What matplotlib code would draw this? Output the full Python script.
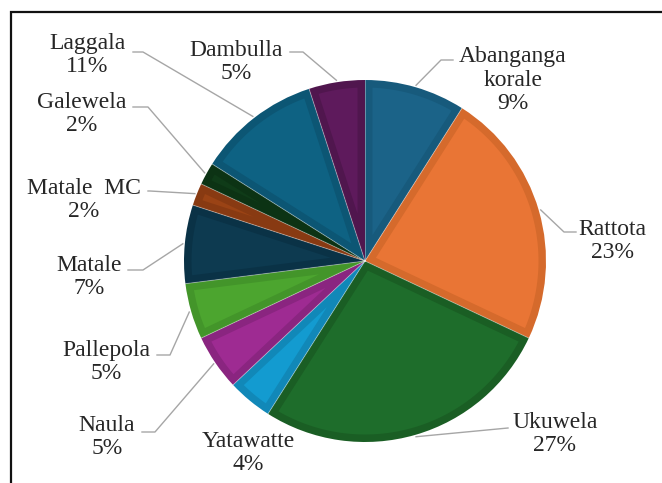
import matplotlib
matplotlib.use('Agg')
import numpy as np
from matplotlib import pyplot as plt
from matplotlib.patches import Rectangle, Polygon

# data, clockwise from 12 o'clock
names = ['Abanganga\nkorale', 'Rattota', 'Ukuwela', 'Yatawatte', 'Naula', 'Pallepola',
         'Matale', 'Matale  MC', 'Galewela', 'Laggala', 'Dambulla']
shares = [9, 23, 27, 4, 5, 5, 7, 2, 2, 11, 5]

fill_colors = ['#1b6388', '#e97535', '#1e6d2b', '#139bd0', '#9e2b92', '#4ca52f',
               '#0d3a50', '#9a4315', '#0f3b18', '#0e6283', '#5e1a5c']
edge_colors = ['#175a7c', '#d56a2c', '#1a5e24', '#1188b8', '#8a2580', '#43952a',
               '#0a3246', '#883a12', '#0c3314', '#0c5674', '#50164e']

W, H = 662, 483
center = (365, H - 261)
radius = 181
inset = 7.5

# label layout in pixels (x, y from top): text centre, stub start, elbow (None = no leader)
label_pos = [(513, 80), (612, 241), (555, 434), (248, 453), (107, 437), (106, 362),
             (89, 277), (84, 200), (82, 114), (87, 55), (236, 62)]
stubs = [(453, 60), (576, 232), (508, 428), None, (142, 432), (157, 355),
         (128, 270), (148, 191), (133, 107), (133, 52), (290, 52)]
elbows = [(441, 60), (564, 232), (508, 428), None, (155, 432), (170, 355),
          (143, 270), (150, 191), (148, 107), (143, 52), (303, 52)]

plt.rcParams['font.family'] = ['Liberation Serif', 'DejaVu Serif']

fig = plt.figure(figsize=(W / 100, H / 100), dpi=100)
ax = fig.add_axes([0, 0, 1, 1])

# base pie in the darker border colours
wedges, _ = ax.pie(shares, colors=edge_colors, startangle=90, counterclock=False,
                   center=center, radius=radius, wedgeprops=dict(linewidth=0))

# inner (lighter) part of each slice, inset from its sides and arc
cx, cy = center
for w, fc in zip(wedges, fill_colors):
    a1, a2 = sorted((w.theta1, w.theta2))
    half = np.deg2rad((a2 - a1) / 2)
    mid = np.deg2rad((a1 + a2) / 2)
    r_in = radius - inset
    apex = inset / np.sin(half) if half < np.pi / 2 else 0
    if apex >= r_in:
        continue
    off = np.rad2deg(np.arcsin(inset / r_in))
    phis = np.deg2rad(np.linspace(a1 + off, a2 - off, 60))
    pts = [(cx + apex * np.cos(mid), cy + apex * np.sin(mid))]
    pts += [(cx + r_in * np.cos(p), cy + r_in * np.sin(p)) for p in phis]
    ax.add_patch(Polygon(pts, closed=True, facecolor=fc, edgecolor='none'))

# thin light separators between slices
for w in wedges:
    t = np.deg2rad(w.theta1)
    ax.plot([cx, cx + radius * np.cos(t)], [cy, cy + radius * np.sin(t)],
            color='white', lw=0.7, alpha=0.35)

for w, name, v, pos, s, e in zip(wedges, names, shares, label_pos, stubs, elbows):
    ax.text(pos[0], H - pos[1], f'{name}\n{v}%', ha='center', va='center',
            fontsize=17, color='#262626', linespacing=1.15)
    if s is None:
        continue
    mid = np.deg2rad((w.theta1 + w.theta2) / 2)
    ex = cx + (radius + 2) * np.cos(mid)
    ey = cy + (radius + 2) * np.sin(mid)
    ax.plot([s[0], e[0], ex], [H - s[1], H - e[1], ey], color='#a6a6a6', lw=1.0)

ax.set_xlim(0, W)
ax.set_ylim(0, H)
ax.set_aspect('auto')
ax.axis('off')

# outer frame (only top and left visible in the crop)
fig.patches.append(Rectangle((11 / W, -0.2), 1.2, 1.2 - 11.5 / H, transform=fig.transFigure,
                             fill=False, edgecolor='#111111', linewidth=1.6))

fig.savefig('out.png', dpi=100)
